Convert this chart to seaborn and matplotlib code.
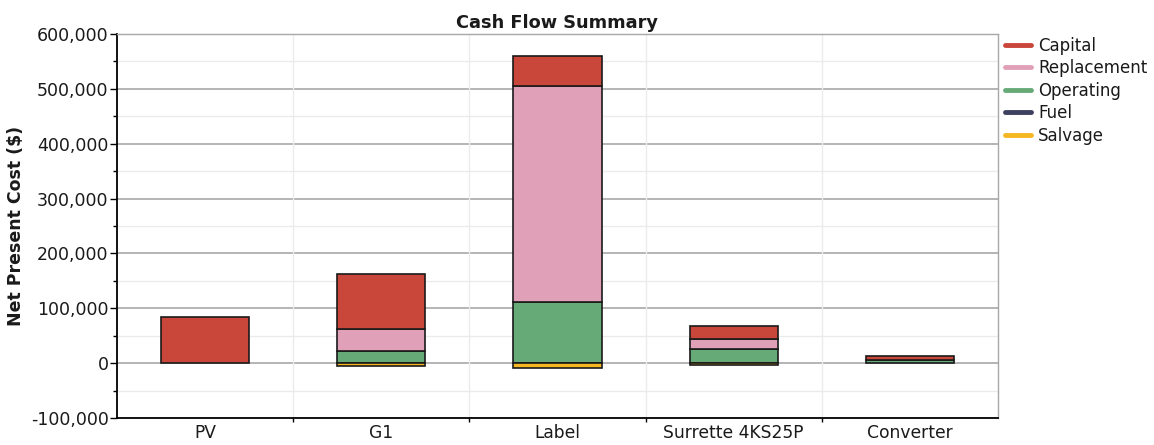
import numpy as np
import pandas as pd
import matplotlib
matplotlib.use("Agg")
import matplotlib.pyplot as plt
from matplotlib.lines import Line2D
from matplotlib.ticker import FuncFormatter, MultipleLocator, FixedLocator
import seaborn as sns

# Net present cost per component, split by cost type ($)
components = ["PV", "G1", "Label", "Surrette 4KS25P", "Converter"]
capital = [84000, 99000, 54500, 24400, 7300]
replacement = [0, 40500, 394500, 18700, 0]
operating = [0, 22400, 111500, 25000, 6000]
fuel = [0, 0, 0, 0, 0]
salvage = [0, -6000, -9000, -2500, 0]

cost_types = ["Capital", "Replacement", "Operating", "Fuel", "Salvage"]
colors = {
    "Capital": "#C9463B",
    "Replacement": "#E0A1B8",
    "Operating": "#66AA77",
    "Fuel": "#3D405E",
    "Salvage": "#F5B822",
}

series = {"Capital": capital, "Replacement": replacement,
          "Operating": operating, "Fuel": fuel, "Salvage": salvage}

sns.set_theme(style="white")
plt.rcParams["font.family"] = ["DejaVu Sans"]

fig, ax = plt.subplots(figsize=(11.54, 4.45), dpi=100)
fig.subplots_adjust(left=0.1014, right=0.8648, top=0.9236, bottom=0.0607)

# Stack positives upward from zero and negatives downward
pos_base = np.zeros(len(components))
neg_base = np.zeros(len(components))
for name in ["Operating", "Fuel", "Replacement", "Capital", "Salvage"]:
    vals = np.array(series[name], dtype=float)
    bottoms = np.where(vals >= 0, pos_base, neg_base)
    mask = vals != 0
    if not mask.any():
        continue
    df = pd.DataFrame({"component": components, "value": vals, "bottom": bottoms})
    df = df[mask]
    sns.barplot(data=df, x="component", y="value", order=components,
                bottom=df["bottom"].to_numpy(), color=colors[name], saturation=1,
                width=0.5, edgecolor="#1a1a1a", linewidth=1.2, ax=ax, zorder=3)
    pos_base = pos_base + np.where(vals > 0, vals, 0)
    neg_base = neg_base + np.where(vals < 0, vals, 0)

ax.set_xlim(-0.5, len(components) - 0.5)
ax.set_ylim(-100000, 600000)
ax.yaxis.set_major_locator(MultipleLocator(100000))
ax.yaxis.set_minor_locator(MultipleLocator(50000))
ax.yaxis.set_major_formatter(FuncFormatter(lambda v, p: f"{int(v):,}"))
ax.xaxis.set_minor_locator(FixedLocator(np.arange(0.5, len(components) - 0.5, 1.0)))

# Gridlines: darker at major y ticks, faint at minor ticks and category borders
ax.grid(False)
for y in np.arange(-50000, 600001, 50000):
    if y % 100000 == 0:
        ax.axhline(y, color="#A8A8A8", linewidth=1.2, zorder=1)
    else:
        ax.axhline(y, color="#EBEBEB", linewidth=1.0, zorder=1)
for xb in np.arange(0.5, len(components) - 0.5, 1.0):
    ax.axvline(xb, color="#EBEBEB", linewidth=1.0, zorder=1)

text_color = "#1a1a1a"
ax.tick_params(axis="y", which="major", left=True, length=5, width=1,
               color="black", labelsize=12.5, pad=1, labelcolor=text_color)
ax.tick_params(axis="y", which="minor", left=True, length=3, width=1, color="black")
ax.tick_params(axis="x", which="major", bottom=True, length=0, labelsize=12.3,
               pad=4, labelcolor=text_color)
ax.tick_params(axis="x", which="minor", bottom=True, length=3, width=1, color="black")

for side in ["left", "bottom"]:
    ax.spines[side].set_color("black")
    ax.spines[side].set_linewidth(1.3)
for side in ["top", "right"]:
    ax.spines[side].set_color("#A8A8A8")
    ax.spines[side].set_linewidth(1.0)

ax.set_xlabel("")
ax.set_ylabel("Net Present Cost ($)", fontsize=12.5, fontweight="bold",
              labelpad=4, color=text_color)
ax.set_title("Cash Flow Summary", fontsize=12.8, fontweight="bold", pad=4,
             color=text_color)

handles = [Line2D([0], [0], color=colors[n], linewidth=3.5) for n in cost_types]
leg = ax.legend(handles, cost_types, loc="upper left", bbox_to_anchor=(0.999, 1.015),
                frameon=False, fontsize=12, handlelength=1.55, handletextpad=0.4,
                labelspacing=0.27, borderaxespad=0.1)
for t in leg.get_texts():
    t.set_color(text_color)

fig.savefig("out.png", dpi=100)
